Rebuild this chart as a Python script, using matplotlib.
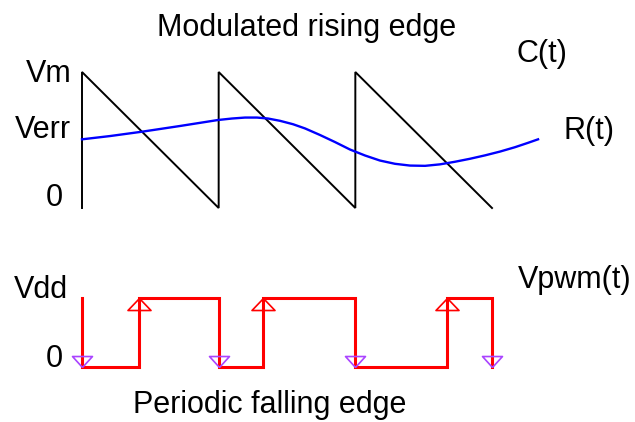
import matplotlib.pyplot as plt

plt.rcParams['font.family'] = ['Liberation Sans', 'DejaVu Sans']

# sawtooth C(t): corner points, time in periods, voltage as fraction of Vm
saw_t = [0, 0, 1, 1, 2, 2, 3]
saw_v = [0, 1, 0, 1, 0, 1, 0]

# reference R(t)
ref_t = [0.000, 0.205, 0.439, 0.717, 0.995, 1.098, 1.193, 1.280, 1.361, 1.449,
         1.544, 1.632, 1.741, 1.851, 1.961, 2.071, 2.180, 2.290, 2.400, 2.510,
         2.620, 2.729, 2.839, 2.949, 3.059, 3.168, 3.263, 3.337]
ref_v = [0.505, 0.529, 0.561, 0.603, 0.647, 0.658, 0.665, 0.665, 0.658, 0.641,
         0.616, 0.585, 0.537, 0.485, 0.430, 0.386, 0.349, 0.325, 0.312, 0.310,
         0.321, 0.340, 0.362, 0.387, 0.415, 0.447, 0.479, 0.505]

# PWM edges (periodic falling, modulated rising)
fall_t = [0, 1, 2, 3]
rise_t = [0.417, 1.324, 2.668]

W, H = 635, 422
fig = plt.figure(figsize=(W / 100, H / 100), dpi=100)

# pixel -> data scaling: t=0 at x=82, t=3 at x=492
px_per_t = (492 - 82) / 3
xlim = (-82 / px_per_t, (W - 82) / px_per_t)

def overlay(y0_pix, y1_pix):
    # y0_pix: pixel row (from top) of v=0, y1_pix: pixel row of v=1
    ax = fig.add_axes([0, 0, 1, 1])
    ax.patch.set_alpha(0)
    ax.axis('off')
    scale = y0_pix - y1_pix
    base = H - y0_pix
    ax.set_xlim(*xlim)
    ax.set_ylim(-base / scale, (H - base) / scale)
    return ax

ax_top = overlay(208, 72)
ax_bot = overlay(367, 298)

ax_top.plot(saw_t, saw_v, color='black', lw=1.4, solid_joinstyle='miter')
ax_top.plot(ref_t, ref_v, color='#0000ff', lw=1.7)

# build the square wave from the edges
pwm_t, pwm_v = [fall_t[0]], [1]
for i, f in enumerate(fall_t):
    pwm_t += [f]
    pwm_v += [0]
    if i < len(rise_t):
        pwm_t += [rise_t[i], rise_t[i]]
        pwm_v += [0, 1]
        pwm_t += [fall_t[i + 1]]
        pwm_v += [1]
ax_bot.plot(pwm_t, pwm_v, color='#ff0000', lw=2.2, solid_joinstyle='miter')

up_mark = [(0, 0), (-11.5, -12), (11.5, -12), (0, 0)]
down_mark = [(0, 0), (-10, 11), (10, 11), (0, 0)]
ax_bot.plot(rise_t, [1] * len(rise_t), ls='none', marker=up_mark, ms=17.3,
            mfc='none', mec='#ff0000', mew=1.2)
ax_bot.plot(fall_t, [0] * len(fall_t), ls='none', marker=down_mark, ms=15.8,
            mfc='none', mec='#aa44ff', mew=1.2)

fs = 22

def label(x, y, s, ha='left'):
    fig.text(x / W, 1 - y / H, s, ha=ha, va='baseline', fontsize=fs)

label(306.5, 36, 'Modulated rising edge', ha='center')
label(516, 62, 'C(t)')
label(72, 82, 'Vm', ha='right')
label(71, 138, 'Verr', ha='right')
label(63, 206, '0', ha='right')
label(563, 139, 'R(t)')
label(68, 298, 'Vdd', ha='right')
label(63, 367, '0', ha='right')
label(518, 288, 'Vpwm(t)')
label(270, 413, 'Periodic falling edge', ha='center')

fig.savefig('out.png', dpi=100)
